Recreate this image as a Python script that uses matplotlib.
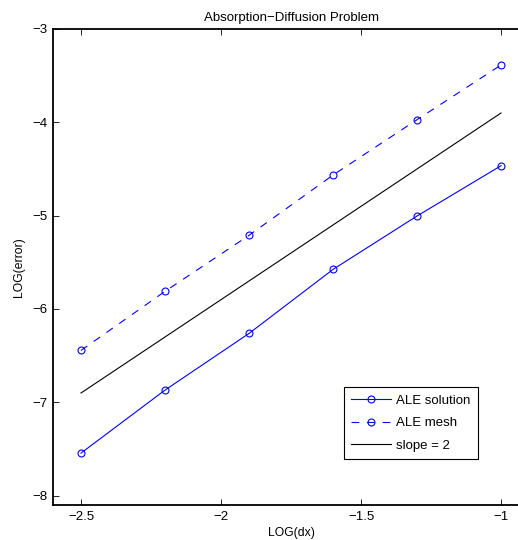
import numpy as np
import matplotlib
matplotlib.use('Agg')
import matplotlib.pyplot as plt

plt.rcParams['font.family'] = ['Liberation Sans', 'DejaVu Sans']
plt.rcParams['font.size'] = 9

# convergence data (log10 of grid spacing vs log10 of error)
log_dx = [-2.5, -2.2, -1.9, -1.6, -1.3, -1.0]
err_solution = [-7.544, -6.869, -6.262, -5.576, -5.004, -4.465]
err_mesh = [-6.444, -5.811, -5.211, -4.565, -3.972, -3.386]
slope_x = [-2.5, -1.0]
slope_y = [-6.9, -3.9]

W, H = 518, 540
fig = plt.figure(figsize=(W / 100, H / 100), dpi=100)
# axes run past the right edge of the figure, so the right spine is cut off
left, right, top, bottom = 53, 529, 29, 505
ax = fig.add_axes([left / W, 1 - bottom / H, (right - left) / W, (bottom - top) / H])

ax.plot(log_dx, err_solution, color='blue', lw=0.8, marker='o', ms=5,
        mfc='none', mew=0.8, label='ALE solution')
ax.plot(log_dx, err_mesh, color='blue', lw=0.8, ls=(0, (7, 7)), marker='o', ms=5,
        mfc='none', mew=0.8, label='ALE mesh')
ax.plot(slope_x, slope_y, color='black', lw=0.8, label='slope = 2')

ax.set_xlim(-2.6, -0.9)
ax.set_ylim(-8.1, -3)
ax.set_xticks([-2.5, -2, -1.5, -1])
ax.set_yticks([-8, -7, -6, -5, -4, -3])
ax.set_xticklabels(['\u22122.5', '\u22122', '\u22121.5', '\u22121'])
ax.set_yticklabels(['\u22128', '\u22127', '\u22126', '\u22125', '\u22124', '\u22123'])
ax.tick_params(direction='in', length=4, width=0.6, top=True, right=True, labelsize=9.5, pad=4)
for s in ax.spines.values():
    s.set_linewidth(1.3)

ax.set_title('Absorption\u2212Diffusion Problem', fontsize=9.5, pad=6)
ax.set_xlabel('LOG(dx)', fontsize=8.7, labelpad=3.5)
ax.set_ylabel('LOG(error)', fontsize=8.7, labelpad=5)

leg = ax.legend(loc='lower left', bbox_to_anchor=(344 / W, 1 - 459 / H),
                bbox_transform=fig.transFigure, fontsize=9.5, frameon=True,
                fancybox=False, framealpha=1, edgecolor='black',
                handlelength=3.0, borderpad=0.55, labelspacing=0.77, handletextpad=0.4,
                borderaxespad=0)
leg.get_frame().set_linewidth(0.8)

fig.savefig('out.png', dpi=100)
